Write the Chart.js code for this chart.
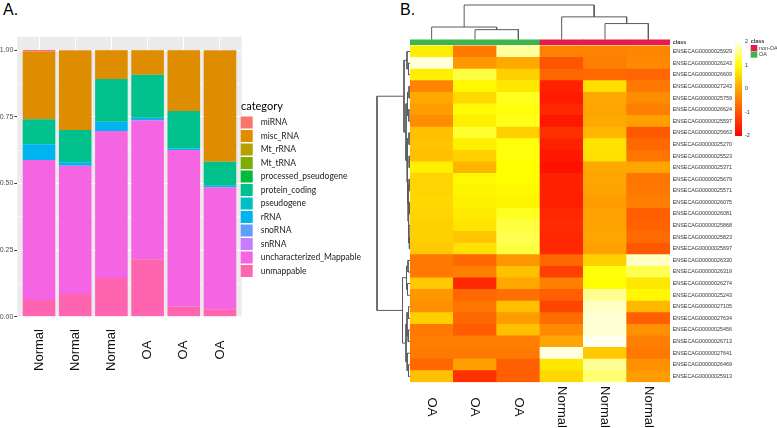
<!DOCTYPE html>
<html>
<head>
<meta charset="utf-8">
<script src="https://cdn.jsdelivr.net/npm/chart.js@4.4.0/dist/chart.umd.min.js"></script>
<style>
html,body{margin:0;padding:0;background:#fff;}
#wrap{position:relative;width:777px;height:428px;overflow:hidden;}
canvas{position:absolute;}
.panel{position:absolute;font-family:"Liberation Sans",Arial,sans-serif;font-size:16px;line-height:16px;color:#000;}
</style>
</head>
<body>
<div id="wrap">
<div class="panel" style="left:3px;top:2px">A.</div>
<div class="panel" style="left:400px;top:2px">B.</div>
<canvas id="barChart" style="left:0;top:0" width="370" height="428"></canvas>
<canvas id="heat" style="left:400px;top:0" width="377" height="428"></canvas>
<canvas id="rowTree" style="left:370px;top:0" width="40" height="428"></canvas>
<canvas id="colTree" style="left:405px;top:0" width="270" height="45"></canvas>
</div>
<script>
Chart.defaults.font.family = '"Liberation Sans", Arial, sans-serif';
Chart.defaults.animation = false;

// ---------- panel A: read composition per sample ----------
const sampleLabels = ['Normal', 'Normal', 'Normal', 'OA', 'OA', 'OA'];
const categoryNames = ['miRNA', 'misc_RNA', 'Mt_rRNA', 'Mt_tRNA', 'processed_pseudogene', 'protein_coding',
  'pseudogene', 'rRNA', 'snoRNA', 'snRNA', 'uncharacterized_Mappable', 'unmappable'];
const miRNA = [0.006, 0.002, 0.001, 0.001, 0.001, 0.002];
const misc_RNA = [0.254, 0.298, 0.108, 0.092, 0.228, 0.417];
const Mt_rRNA = [0, 0, 0, 0, 0, 0];
const Mt_tRNA = [0, 0, 0, 0, 0, 0];
const processed_pseudogene = [0, 0, 0, 0, 0, 0];
const protein_coding = [0.093, 0.121, 0.160, 0.161, 0.139, 0.090];
const pseudogene = [0, 0, 0, 0, 0, 0];
const rRNA = [0.059, 0.013, 0.035, 0.009, 0.007, 0.006];
const snoRNA = [0, 0, 0, 0, 0, 0];
const snRNA = [0, 0, 0, 0, 0, 0];
const uncharacterized_Mappable = [0.525, 0.481, 0.551, 0.522, 0.587, 0.457];
const unmappable = [0.063, 0.085, 0.145, 0.215, 0.038, 0.028];
const yTicksA = [0, 0.25, 0.5, 0.75, 1];

const categoryValues = [miRNA, misc_RNA, Mt_rRNA, Mt_tRNA, processed_pseudogene, protein_coding,
  pseudogene, rRNA, snoRNA, snRNA, uncharacterized_Mappable, unmappable];
const categoryColors = ['#F8766D', '#DE8C00', '#B79F00', '#7CAE00', '#00BA38', '#00C08B',
  '#00BFC4', '#00B4F0', '#619CFF', '#C77CFF', '#F564E3', '#FF64B0'];

// ---------- panel B: heatmap (row z-scores) ----------
const heatSamples = ['OA', 'OA', 'OA', 'Normal', 'Normal', 'Normal'];
const geneIds = ['ENSECAG00000025929', 'ENSECAG00000026243', 'ENSECAG00000026609', 'ENSECAG00000027243',
  'ENSECAG00000025759', 'ENSECAG00000026624', 'ENSECAG00000025597', 'ENSECAG00000025663',
  'ENSECAG00000025270', 'ENSECAG00000025523', 'ENSECAG00000025371', 'ENSECAG00000025679',
  'ENSECAG00000025571', 'ENSECAG00000026075', 'ENSECAG00000026081', 'ENSECAG00000025868',
  'ENSECAG00000025823', 'ENSECAG00000025697', 'ENSECAG00000026330', 'ENSECAG00000026319',
  'ENSECAG00000026274', 'ENSECAG00000025243', 'ENSECAG00000027105', 'ENSECAG00000027634',
  'ENSECAG00000025456', 'ENSECAG00000026713', 'ENSECAG00000027641', 'ENSECAG00000026469',
  'ENSECAG00000025913'];
const zOA1 = [0.8, 1.9, 0.83, -0.4, 0.03, -0.1, -0.3, 0.3, 0.35, 0.3, 0.83, 0.52, 0.52, 0.57, 0.52,
  0.48, 0.48, 0.39, -0.56, -0.56, 0.39, -0.16, -0.26, 0.48, -0.56, -0.5, -0.55, -0.76, 0.3];
const zOA2 = [-0.56, -0.16, 1.27, 0.92, 0.57, 0.95, 0.83, 1.2, 0.83, 0.48, 0.17, 0.92, 0.88, 0.83, 0.78,
  0.7, 0.35, 0.65, -0.76, -0.46, -1.53, -0.76, -0.6, -0.76, -0.92, -0.5, -0.55, -0.06, -1.44];
const zOA3 = [1.65, 0.03, 0.48, 0.74, 1.13, 1.05, 1.1, 0.48, 1.05, 1.05, 1.0, 1.0, 0.92, 0.88, 1.13,
  1.27, 1.33, 1.27, -0.16, 0.3, 0.03, -0.66, 0.3, -0.1, 0.3, -0.5, -0.55, -0.87, -0.87];
const zNormal1 = [-0.45, -1.0, -0.8, -1.6, -1.7, -1.53, -1.72, -1.44, -1.62, -1.72, -1.8, -1.62, -1.62,
  -1.62, -1.53, -1.48, -1.53, -1.53, -0.76, -1.25, -0.46, -0.87, -1.2, -0.7, -0.35, 0.0, 1.93, 0.74, 0.57];
const zNormal2 = [-0.45, -0.5, -0.75, 0.65, 0.03, 0.0, 0.03, 0.2, 0.7, 0.65, 0.03, 0.0, -0.02, -0.1,
  -0.05, -0.05, 0.0, -0.05, 0.48, 1.05, 1.0, 1.6, 1.8, 1.87, 1.87, 2.0, 0.39, 1.6, 1.47];
const zNormal3 = [-0.4, -0.35, -0.8, -0.55, -0.3, -0.5, -0.06, -0.95, -0.76, -0.6, 0.0, -0.6, -0.55,
  -0.5, -0.87, -0.82, -0.72, -0.97, 1.8, 1.33, 0.74, 0.9, 0.2, -0.87, -0.26, -0.46, -0.55, -0.26, -0.1];
const legendTicks = [2, 1, 0, -1, -2];

// dendrograms, hclust style merges: [left, right, height]; negative = leaf (display order)
const rowMerge = [[-2, -3, 1.5], [-1, 1, 3], [-4, -5, 1], [-6, -7, 1.2], [3, 4, 2.5], [-17, -18, 0.6],
  [-16, 6, 1.2], [-14, -15, 0.7], [8, 7, 1.6], [-12, -13, 0.9], [10, 9, 2], [-10, -11, 0.8], [12, 11, 2.5],
  [-8, -9, 1], [14, 13, 3], [5, 15, 4], [2, 16, 6], [-19, -20, 2], [-21, -22, 2.5], [18, 19, 3.5],
  [-23, -24, 1.5], [-25, -26, 1.8], [21, 22, 3], [-28, -29, 1.5], [-27, 24, 2.8], [23, 25, 4],
  [20, 26, 7.5], [17, 27, 33]];
const colMerge = [[-2, -3, 9.7], [-1, 1, 12.3], [-5, -6, 15.7], [-4, 3, 22.3], [2, 4, 34]];

const heatColumns = [zOA1, zOA2, zOA3, zNormal1, zNormal2, zNormal3];
const stopVals = [-2, -1, 0, 1, 2];
const stopRgb = [[255, 0, 0], [255, 85, 0], [255, 165, 0], [255, 255, 0], [255, 255, 242]];
function heatColor(v) {
  v = Math.max(-2, Math.min(2, v));
  let i = 0;
  while (i < stopVals.length - 2 && v > stopVals[i + 1]) i++;
  const t = (v - stopVals[i]) / (stopVals[i + 1] - stopVals[i]);
  const c = stopRgb[i].map((a, k) => Math.round(a + (stopRgb[i + 1][k] - a) * t));
  return 'rgb(' + c.join(',') + ')';
}
const classColors = {OA: '#3DB54A', Normal: '#E8194F'};

// ---------- chart A ----------
const dsA = [];
for (let c = categoryNames.length - 1; c >= 0; c--) {
  dsA.push({
    label: categoryNames[c],
    data: categoryValues[c].map((v, i) => ({x: i + 1, y: v})),
    backgroundColor: categoryColors[c],
    borderWidth: 0,
    categoryPercentage: 0.9,
    barPercentage: 1
  });
}
const isMajor = v => Math.abs(v * 4 - Math.round(v * 4)) < 1e-6;

new Chart(document.getElementById('barChart'), {
  type: 'bar',
  data: {datasets: dsA},
  options: {
    responsive: false,
    layout: {padding: {left: 0, top: 36.7, right: 370 - 241.7, bottom: 428 - 316.7}},
    plugins: {legend: {display: false}, tooltip: {enabled: false}},
    scales: {
      x: {
        type: 'linear', min: 0.4, max: 6.6, stacked: true, offset: false,
        afterBuildTicks: s => { s.ticks = sampleLabels.map((_, i) => ({value: i + 1})); },
        afterFit: s => { s.height = 0; },
        ticks: {display: false},
        grid: {color: '#ffffff', lineWidth: 1, drawTicks: false, offset: false},
        border: {display: false}
      },
      y: {
        stacked: true, min: 0, max: 1.05,
        afterBuildTicks: s => {
          const t = [];
          for (let k = 0; k <= 8; k++) t.push({value: k * 0.125});
          s.ticks = t;
        },
        afterFit: s => { s.width = 17.3; },
        ticks: {
          autoSkip: false, padding: 1, color: '#4D4D4D', font: {size: 7},
          callback: v => (isMajor(v) && yTicksA.includes(v)) ? v.toFixed(2) : ''
        },
        grid: {
          color: '#ffffff',
          lineWidth: ctx => isMajor(ctx.tick.value) ? 1 : 0.5,
          tickColor: ctx => isMajor(ctx.tick.value) ? '#333333' : 'rgba(0,0,0,0)',
          tickLength: 3
        },
        border: {display: false}
      }
    }
  },
  plugins: [{
    id: 'panelA',
    beforeDraw(chart) {
      const a = chart.chartArea, ctx = chart.ctx;
      ctx.save();
      ctx.fillStyle = '#EBEBEB';
      ctx.fillRect(a.left, a.top, a.right - a.left, a.bottom - a.top);
      ctx.restore();
    },
    afterDraw(chart) {
      const ctx = chart.ctx, xs = chart.scales.x;
      ctx.save();
      ctx.fillStyle = '#111';
      ctx.font = '13px "Liberation Sans", Arial, sans-serif';
      ctx.textAlign = 'center';
      ctx.textBaseline = 'middle';
      sampleLabels.forEach((lab, i) => {
        ctx.save();
        ctx.translate(xs.getPixelForValue(i + 1), 350);
        ctx.rotate(-Math.PI / 2);
        ctx.fillText(lab, 0, 0);
        ctx.restore();
      });
      // legend
      ctx.textAlign = 'left';
      ctx.fillStyle = '#000';
      ctx.font = '11px Lato, sans-serif';
      ctx.fillText('category', 241, 106);
      ctx.font = '8.5px Lato, sans-serif';
      categoryNames.forEach((name, i) => {
        const y = 122.5 + i * 13.5;
        ctx.fillStyle = categoryColors[i];
        ctx.fillRect(240.7, y - 6, 12, 12);
        ctx.fillStyle = '#1a1a1a';
        ctx.fillText(name, 260.7, y);
      });
      ctx.restore();
    }
  }]
});

// ---------- chart B: heatmap ----------
const nRows = geneIds.length;
const gapH = 0.1, classH = 0.45;
const dsB = [];
for (let r = nRows - 1; r >= 0; r--) {
  dsB.push({
    data: heatColumns.map(() => 1),
    backgroundColor: heatColumns.map(col => heatColor(col[r])),
    borderWidth: 0, categoryPercentage: 1, barPercentage: 1
  });
}
dsB.push({data: heatColumns.map(() => gapH), backgroundColor: 'rgba(0,0,0,0)', borderWidth: 0,
  categoryPercentage: 1, barPercentage: 1});
dsB.push({data: heatColumns.map(() => classH), backgroundColor: heatSamples.map(s => classColors[s]),
  borderWidth: 0, categoryPercentage: 1, barPercentage: 1});

const tickVals = geneIds.map((_, r) => nRows - r - 0.5).concat([nRows + gapH + classH / 2]);
const tickLabels = geneIds.concat(['class']);

new Chart(document.getElementById('heat'), {
  type: 'bar',
  data: {labels: heatSamples, datasets: dsB},
  options: {
    responsive: false,
    layout: {padding: {left: 10, top: 39.45, right: 0, bottom: 45.8}},
    plugins: {legend: {display: false}, tooltip: {enabled: false}},
    scales: {
      x: {stacked: true, display: false},
      y: {
        stacked: true, min: 0, max: nRows + gapH + classH, position: 'right',
        afterBuildTicks: s => { s.ticks = tickVals.map(v => ({value: v})); },
        afterFit: s => { s.width = 107; },
        ticks: {
          autoSkip: false, padding: 2.7, color: '#333',
          font: ctx => ({size: 5.4, weight: (ctx.tick && ctx.tick.value > nRows) ? 'bold' : 'normal'}),
          callback: (v, i) => tickLabels[i]
        },
        grid: {display: false, drawTicks: false},
        border: {display: false}
      }
    }
  },
  plugins: [{
    id: 'heatExtras',
    afterDraw(chart) {
      const ctx = chart.ctx, xs = chart.scales.x;
      ctx.save();
      ctx.fillStyle = '#111';
      ctx.font = '13px "Liberation Sans", Arial, sans-serif';
      ctx.textAlign = 'center';
      ctx.textBaseline = 'middle';
      heatSamples.forEach((lab, i) => {
        ctx.save();
        ctx.translate(xs.getPixelForValue(i), 407);
        ctx.rotate(Math.PI / 2);
        ctx.fillText(lab, 0, 0);
        ctx.restore();
      });
      // colour key
      const top = 41.7, bot = 136, x0 = 335;
      const g = ctx.createLinearGradient(0, bot, 0, top);
      stopVals.forEach((v, k) => g.addColorStop(k / (stopVals.length - 1), heatColor(v)));
      ctx.fillStyle = g;
      ctx.fillRect(x0, top, 7, bot - top);
      ctx.fillStyle = '#333';
      ctx.font = '5.4px "Liberation Sans", Arial, sans-serif';
      ctx.textAlign = 'left';
      legendTicks.forEach(v => {
        const y = bot - (v + 2) / 4 * (bot - top);
        ctx.fillText(String(v), x0 + 10, y);
      });
      // class key
      ctx.font = 'bold 5.4px "Liberation Sans", Arial, sans-serif';
      ctx.fillText('class', 350.7, 41.7);
      ctx.font = '5.4px "Liberation Sans", Arial, sans-serif';
      ctx.fillStyle = classColors.Normal;
      ctx.fillRect(350.7, 45, 6.6, 6.2);
      ctx.fillStyle = classColors.OA;
      ctx.fillRect(350.7, 51.5, 6.6, 6.2);
      ctx.fillStyle = '#333';
      ctx.fillText('non-OA', 359, 48.1);
      ctx.fillText('OA', 359, 54.6);
      ctx.restore();
    }
  }]
});

// ---------- dendrograms ----------
function treeSegments(merge) {
  const pos = [], hgt = [], segs = [];
  merge.forEach(([a, b, h]) => {
    const pa = a < 0 ? -a : pos[a - 1], ha = a < 0 ? 0 : hgt[a - 1];
    const pb = b < 0 ? -b : pos[b - 1], hb = b < 0 ? 0 : hgt[b - 1];
    pos.push((pa + pb) / 2);
    hgt.push(h);
    segs.push([[pa, ha], [pa, h], [pb, h], [pb, hb]]);
  });
  return segs;
}
const lineStyle = {showLine: true, borderColor: '#5a5a5a', borderWidth: 1, pointRadius: 0, clip: false, tension: 0};
const treeOpts = (pad, xs, ys) => ({
  responsive: false,
  layout: {padding: pad},
  plugins: {legend: {display: false}, tooltip: {enabled: false}},
  scales: {x: xs, y: ys}
});

new Chart(document.getElementById('rowTree'), {
  type: 'scatter',
  data: {datasets: treeSegments(rowMerge).map(s => Object.assign({data: s.map(p => ({x: p[1], y: p[0]}))}, lineStyle))},
  options: treeOpts({left: 7, right: 0, top: 45.8, bottom: 45.8},
    {type: 'linear', min: 0, max: 33, reverse: true, display: false},
    {type: 'linear', min: 0.5, max: nRows + 0.5, reverse: true, display: false})
});

new Chart(document.getElementById('colTree'), {
  type: 'scatter',
  data: {datasets: treeSegments(colMerge).map(s => Object.assign({data: s.map(p => ({x: p[0], y: p[1]}))}, lineStyle))},
  options: treeOpts({left: 5, right: 5, top: 5, bottom: 5.5},
    {type: 'linear', min: 0.5, max: 6.5, display: false},
    {type: 'linear', min: 0, max: 34, display: false})
});
</script>
</body>
</html>
